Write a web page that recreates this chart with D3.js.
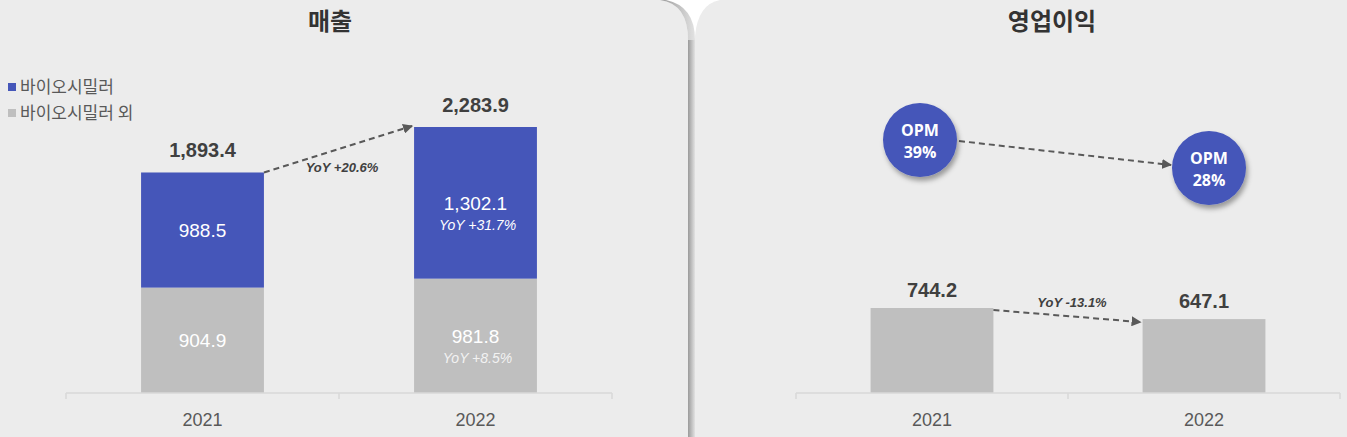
<!DOCTYPE html>
<html>
<head>
<meta charset="utf-8">
<script src="https://cdn.jsdelivr.net/npm/d3@7"></script>
<style>
  body { margin: 0; background: #fff; }
  svg { display: block; }
  .num { font-family: "Liberation Sans", Arial, sans-serif; }
  .kr { font-family: "Noto Sans CJK KR", "Malgun Gothic", sans-serif; }
  .opm { font-family: "Open Sans", "Noto Sans", sans-serif; }
</style>
</head>
<body>
<div class="canvas"></div>
<script>
// ---------------- data ----------------
const years = ['2021', '2022'];
const biosimilar = [988.5, 1302.1];      // 바이오시밀러
const others = [904.9, 981.8];           // 바이오시밀러 외
const salesTotal = [1893.4, 2283.9];
const salesYoY = ['YoY +20.6%'];
const bioYoY = [null, 'YoY +31.7%'];
const otherYoY = [null, 'YoY +8.5%'];
const opProfit = [744.2, 647.1];
const opYoY = ['YoY -13.1%'];
const opm = [39, 28];
const legendLabels = ['바이오시밀러', '바이오시밀러 외'];
const titles = ['매출', '영업이익'];

const fmt = d3.format(',.1f');
const blue = '#4556b9', gray = '#bfbfbf', bg = '#ececec';

// ---------------- canvas ----------------
const W = 1347, H = 437;
const svg = d3.select('.canvas').append('svg')
    .attr('width', W).attr('height', H);

const defs = svg.append('defs');
defs.append('marker')
    .attr('id', 'arrow')
    .attr('viewBox', '0 0 10 10')
    .attr('refX', 9).attr('refY', 5)
    .attr('markerWidth', 5).attr('markerHeight', 5)
    .attr('markerUnits', 'strokeWidth')
    .attr('orient', 'auto')
  .append('path')
    .attr('d', 'M0,0 L10,5 L0,10 Z')
    .attr('fill', '#595959');

const sh = defs.append('filter').attr('id', 'shadow')
    .attr('x', '-30%').attr('y', '-30%').attr('width', '170%').attr('height', '170%');
sh.append('feDropShadow').attr('dx', 2).attr('dy', 4).attr('stdDeviation', 2.5)
    .attr('flood-color', '#000').attr('flood-opacity', 0.35);

const edge = defs.append('linearGradient').attr('id', 'edge');
edge.append('stop').attr('offset', '0%').attr('stop-color', '#9a9a9a');
edge.append('stop').attr('offset', '100%').attr('stop-color', '#e2e2e2');

// panel backgrounds
svg.append('path')
    .attr('d', 'M0,0 L660,0 Q688,4 688,40 L688,437 L0,437 Z')
    .attr('fill', bg);
// shadow strip on the left panel edge
svg.append('path')
    .attr('d', 'M688,40 Q688,4 660,0 L666,0 Q695,6 695,40 L695,437 L688,437 Z')
    .attr('fill', 'url(#edge)');
svg.append('path')
    .attr('d', 'M695,437 L695,36 Q698,4 720,0 L1347,0 L1347,437 Z')
    .attr('fill', bg);
svg.append('rect').attr('x', 688).attr('y', 40).attr('width', 7).attr('height', 397)
    .attr('fill', 'url(#edge)');

// titles
svg.selectAll('.title')
    .data(titles)
    .enter().append('text')
    .attr('class', 'title kr')
    .attr('x', (d, i) => i === 0 ? 330 : 1052)
    .attr('y', 30)
    .attr('text-anchor', 'middle')
    .attr('font-size', 24)
    .attr('font-weight', 'bold')
    .attr('fill', '#333')
    .text(d => d);

// helper: category axis with ticks on band edges
const drawAxis = (g, x, y0) => {
    const bw = x.bandwidth();
    const r = x.range();
    g.append('line')
        .attr('x1', r[0]).attr('x2', r[1])
        .attr('y1', y0).attr('y2', y0)
        .attr('stroke', '#d9d9d9').attr('stroke-width', 1.5);
    const edges = [r[0]].concat(x.domain().map(d => x(d) + bw));
    g.selectAll('.tk').data(edges).enter().append('line')
        .attr('x1', d => d).attr('x2', d => d)
        .attr('y1', y0).attr('y2', y0 + 6)
        .attr('stroke', '#d9d9d9').attr('stroke-width', 1.5);
    const axis = d3.axisBottom(x).tickSize(0).tickPadding(20);
    const ag = g.append('g').attr('transform', `translate(0, ${y0})`).call(axis);
    ag.select('.domain').remove();
    ag.selectAll('text')
        .attr('class', 'num')
        .attr('font-size', 18)
        .attr('fill', '#595959');
};

const dashed = (g, x1, y1, x2, y2) => g.append('line')
    .attr('x1', x1).attr('y1', y1).attr('x2', x2).attr('y2', y2)
    .attr('stroke', '#595959').attr('stroke-width', 2)
    .attr('stroke-dasharray', '6,4')
    .attr('marker-end', 'url(#arrow)');

// ---------------- left: 매출 ----------------
const baseY = 393;
const xL = d3.scaleBand().domain(years).range([66, 612]).padding(0);
const yL = d3.scaleLinear().domain([0, 2283.9]).range([baseY, 127]);
const barW = xL.bandwidth() * 0.45;
const bx = (x, d) => x(d) + (x.bandwidth() - barW) / 2;

const left = svg.append('g');

const stackRows = years.map((y, i) => ({ year: y, others: others[i], bio: biosimilar[i] }));
const stack = d3.stack().keys(['others', 'bio'])(stackRows);
const colors = { others: gray, bio: blue };

left.selectAll('.layer')
    .data(stack)
    .enter().append('g')
    .attr('fill', d => colors[d.key])
  .selectAll('rect')
    .data(d => d)
    .enter().append('rect')
    .attr('x', d => bx(xL, d.data.year))
    .attr('y', d => yL(d[1]))
    .attr('width', barW)
    .attr('height', d => yL(d[0]) - yL(d[1]));

drawAxis(left, xL, baseY);

// segment labels
const cx = (x, d) => x(d) + x.bandwidth() / 2;
years.forEach((yr, i) => {
    const segs = [
        { v: others[i], lo: 0, hi: others[i], yoy: otherYoY[i], yc: '#f2f2f2' },
        { v: biosimilar[i], lo: others[i], hi: salesTotal[i], yoy: bioYoY[i], yc: '#fff' }
    ];
    segs.forEach(s => {
        const mid = (yL(s.lo) + yL(s.hi)) / 2;
        left.append('text')
            .attr('class', 'num')
            .attr('x', cx(xL, yr)).attr('y', mid + 7)
            .attr('text-anchor', 'middle')
            .attr('font-size', 19)
            .attr('fill', '#fff')
            .text(fmt(s.v));
        if (s.yoy) {
            left.append('text')
                .attr('class', 'num')
                .attr('x', cx(xL, yr) + 2).attr('y', mid + 27)
                .attr('text-anchor', 'middle')
                .attr('font-size', 14)
                .attr('font-style', 'italic')
                .attr('fill', s.yc)
                .text(s.yoy);
        }
    });
    left.append('text')
        .attr('class', 'num')
        .attr('x', cx(xL, yr)).attr('y', yL(salesTotal[i]) - 15)
        .attr('text-anchor', 'middle')
        .attr('font-size', 20)
        .attr('font-weight', 'bold')
        .attr('fill', '#404040')
        .text(fmt(salesTotal[i]));
});

dashed(left, bx(xL, years[0]) + barW, yL(salesTotal[0]),
    bx(xL, years[1]) - 2, yL(salesTotal[1]) - 1);
left.append('text')
    .attr('class', 'num')
    .attr('x', 342).attr('y', 172)
    .attr('text-anchor', 'middle')
    .attr('font-size', 13)
    .attr('font-weight', 'bold')
    .attr('font-style', 'italic')
    .attr('fill', '#404040')
    .text(salesYoY[0]);

// legend
const legend = left.selectAll('.legend')
    .data(legendLabels)
    .enter().append('g')
    .attr('transform', (d, i) => `translate(8, ${83 + i * 26})`);
legend.append('rect')
    .attr('width', 8).attr('height', 8)
    .attr('fill', (d, i) => i === 0 ? blue : gray);
legend.append('text')
    .attr('class', 'kr')
    .attr('x', 12).attr('y', 10)
    .attr('font-size', 17)
    .attr('fill', '#595959')
    .text(d => d);

// ---------------- right: 영업이익 ----------------
const xR = d3.scaleBand().domain(years).range([796, 1340]).padding(0);
const yR = d3.scaleLinear().domain([0, 744.2]).range([baseY, 308]);
const right = svg.append('g');

right.selectAll('.op')
    .data(opProfit)
    .enter().append('rect')
    .attr('x', (d, i) => bx(xR, years[i]))
    .attr('y', d => yR(d))
    .attr('width', barW)
    .attr('height', d => baseY - yR(d))
    .attr('fill', gray);

drawAxis(right, xR, baseY);

right.selectAll('.opl')
    .data(opProfit)
    .enter().append('text')
    .attr('class', 'num')
    .attr('x', (d, i) => cx(xR, years[i]))
    .attr('y', d => yR(d) - 11)
    .attr('text-anchor', 'middle')
    .attr('font-size', 20)
    .attr('font-weight', 'bold')
    .attr('fill', '#404040')
    .text(d => fmt(d));

dashed(right, bx(xR, years[0]) + barW, yR(opProfit[0]) + 2,
    bx(xR, years[1]) - 2, yR(opProfit[1]) + 3);
right.append('text')
    .attr('class', 'num')
    .attr('x', 1072).attr('y', 307)
    .attr('text-anchor', 'middle')
    .attr('font-size', 13)
    .attr('font-weight', 'bold')
    .attr('font-style', 'italic')
    .attr('fill', '#404040')
    .text(opYoY[0]);

// OPM bubbles
const yO = d3.scaleLinear().domain([28, 39]).range([168, 140]);
const r = 37;
const bubX = [cx(xR, years[0]) - 12, cx(xR, years[1]) + 5];
dashed(right, bubX[0] + r + 2, yO(opm[0]) + 1, bubX[1] - r - 1, yO(opm[1]) - 3);

const bub = right.selectAll('.bub')
    .data(opm)
    .enter().append('g')
    .attr('transform', (d, i) => `translate(${bubX[i]}, ${yO(d)})`);
bub.append('circle')
    .attr('r', r)
    .attr('fill', blue)
    .attr('filter', 'url(#shadow)');
bub.append('text')
    .attr('class', 'opm')
    .attr('text-anchor', 'middle')
    .attr('y', -4)
    .attr('font-size', 16)
    .attr('font-weight', 'bold')
    .attr('fill', '#fff')
    .text('OPM');
bub.append('text')
    .attr('class', 'opm')
    .attr('text-anchor', 'middle')
    .attr('y', 18)
    .attr('font-size', 16)
    .attr('font-weight', 'bold')
    .attr('fill', '#fff')
    .text(d => d + '%');
</script>
</body>
</html>
